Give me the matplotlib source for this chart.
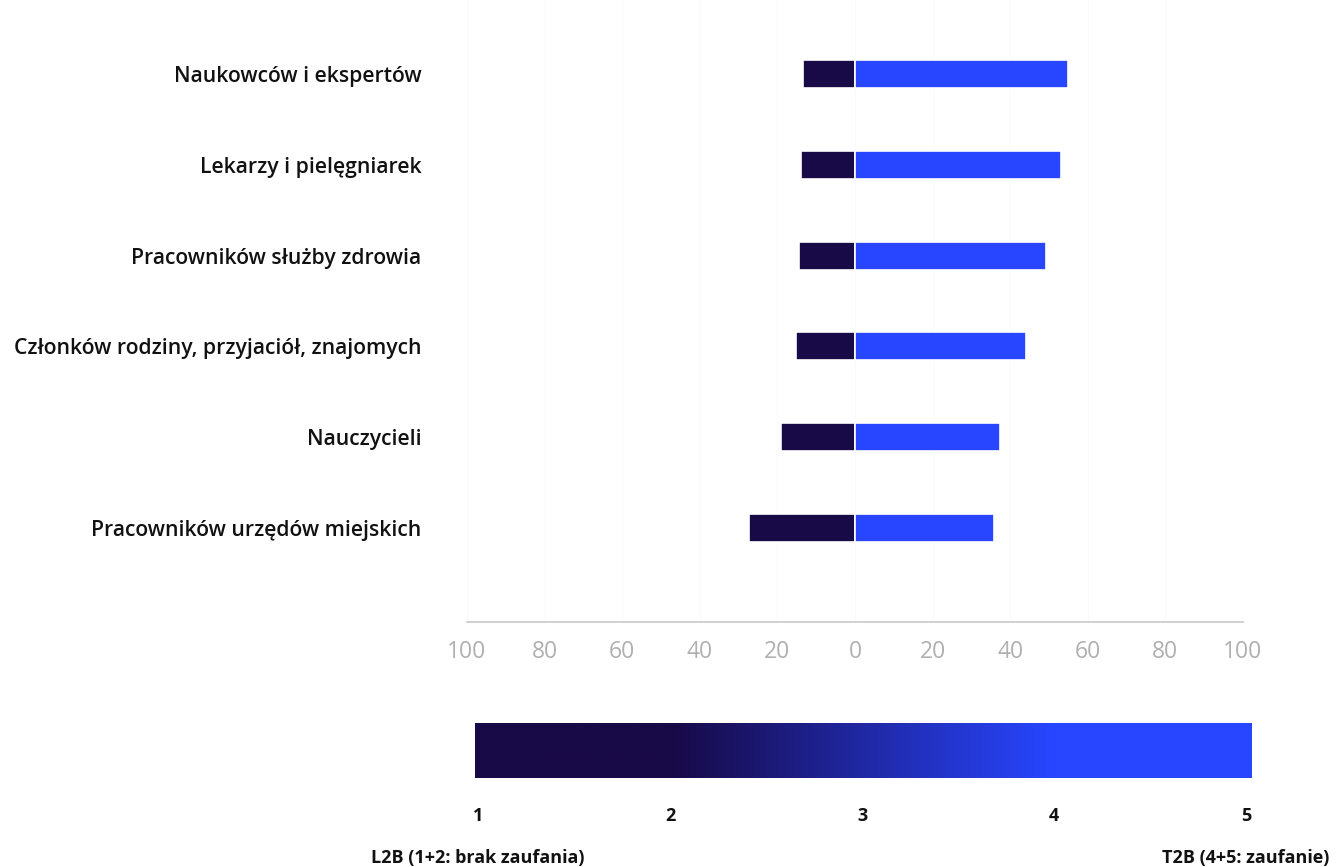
import matplotlib
matplotlib.use("Agg")
import matplotlib.pyplot as plt
import numpy as np
from matplotlib.colors import LinearSegmentedColormap

categories = [
    "Naukowców i ekspertów",
    "Lekarzy i pielęgniarek",
    "Pracowników służby zdrowia",
    "Członków rodziny, przyjaciół, znajomych",
    "Nauczycieli",
    "Pracowników urzędów miejskich",
]
l2b = [13.4, 13.9, 14.4, 15.2, 19.1, 27.3]   # brak zaufania (left)
t2b = [54.9, 53.1, 49.2, 44.1, 37.4, 35.8]   # zaufanie (right)
x_ticks = [-100, -80, -60, -40, -20, 0, 20, 40, 60, 80, 100]
x_tick_labels = ["100", "80", "60", "40", "20", "0", "20", "40", "60", "80", "100"]
scale_ticks = [1, 2, 3, 4, 5]
scale_labels = ["1", "2", "3", "4", "5"]
end_labels = ["L2B (1+2: brak zaufania)", "T2B (4+5: zaufanie)"]

DARK = "#180A46"
BLUE = "#2846FF"

plt.rcParams['font.family'] = ['Open Sans', 'DejaVu Sans']

W, H = 1336, 867
fig = plt.figure(figsize=(W / 100, H / 100), dpi=100)

# main diverging bar chart
ax = fig.add_axes([467 / W, 1 - 622 / H, 776 / W, 622 / H])
n = len(categories)
ypos = np.arange(n)[::-1]
bh = 0.31
ax.barh(ypos, [-v for v in l2b], height=bh, color=DARK, edgecolor="white", linewidth=1.2, zorder=3)
ax.barh(ypos, t2b, height=bh, color=BLUE, edgecolor="white", linewidth=1.2, zorder=3)
ax.set_xlim(-100, 100)
ax.set_ylim(-1.035, 5.815)
ax.set_xticks(x_ticks)
ax.set_xticklabels(x_tick_labels, fontsize=16.5, color="#B0B0B0")
ax.set_yticks(ypos)
ax.set_yticklabels(categories, fontsize=15.2, color="#111111", fontweight="semibold")
ax.tick_params(axis="y", length=0, pad=33)
ax.tick_params(axis="x", length=0, pad=13)
for x in x_ticks:
    ax.axvline(x, color="#FAFAFA", linewidth=1, zorder=0)
for s in ["top", "right", "left"]:
    ax.spines[s].set_visible(False)
ax.spines["bottom"].set_color("#C8C8C8")
ax.spines["bottom"].set_linewidth(1.2)

# gradient legend bar
lx0, lx1 = 475, 1252
ax2 = fig.add_axes([lx0 / W, 1 - 778 / H, (lx1 - lx0) / W, 55 / H])
vmin = 1 - (478 - lx0) / 192
vmax = 5 + (lx1 - 1246) / 192
cmap = LinearSegmentedColormap.from_list(
    "trust", [(0.0, DARK), ((2 - vmin) / (vmax - vmin), DARK),
              ((4 - vmin) / (vmax - vmin), BLUE), (1.0, BLUE)])
grad = np.linspace(0, 1, 512).reshape(1, -1)
ax2.imshow(grad, aspect="auto", cmap=cmap, extent=(vmin, vmax, 0, 1))
ax2.set_xlim(vmin, vmax)
ax2.set_ylim(0, 1)
ax2.set_yticks([])
ax2.set_xticks(scale_ticks)
ax2.set_xticklabels(scale_labels, fontsize=13, fontweight="bold", color="#111111")
ax2.tick_params(axis="x", length=0, pad=21)
for s in ax2.spines.values():
    s.set_visible(False)

# end labels
ax2.text(scale_ticks[0], -1.45, end_labels[0], ha="center", va="center",
         fontsize=13, fontweight="bold", color="#111111", transform=ax2.transData)
ax2.text(scale_ticks[-1], -1.45, end_labels[1], ha="center", va="center",
         fontsize=13, fontweight="bold", color="#111111", transform=ax2.transData)

fig.savefig("out.png", dpi=100, facecolor="white")
